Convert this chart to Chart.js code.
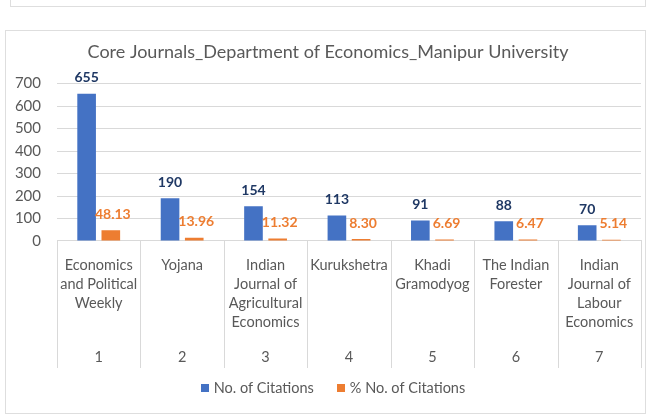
<!DOCTYPE html>
<html lang="en">
<head>
    <meta charset="UTF-8">
    <title>Core Journals</title>
    <script src="https://cdn.jsdelivr.net/npm/chart.js"></script>
    <style>
        body { margin: 0; background: #fff; font-family: Lato, sans-serif; }
        #wrap { position: relative; width: 652px; height: 418px; overflow: hidden; }
        .frame { position: absolute; border: 1px solid #dedede; }
        canvas { position: absolute; left: 0; top: 0; }
    </style>
</head>
<body>
<div id="wrap">
    <div class="frame" style="left:10px; top:-10px; width:634px; height:15px;"></div>
    <div class="frame" style="left:5px; top:30px; width:639px; height:382px;"></div>
    <canvas id="chart" width="652" height="418"></canvas>
</div>

<script>
    // data
    const journals = [
        ["Economics", "and Political", "Weekly"],
        ["Yojana"],
        ["Indian", "Journal of", "Agricultural", "Economics"],
        ["Kurukshetra"],
        ["Khadi", "Gramodyog"],
        ["The Indian", "Forester"],
        ["Indian", "Journal of", "Labour", "Economics"]
    ];
    const ranks = ["1", "2", "3", "4", "5", "6", "7"];
    const citations = [655, 190, 154, 113, 91, 88, 70];
    const pctCitations = [48.13, 13.96, 11.32, 8.30, 6.69, 6.47, 5.14];
    const yTicks = [0, 100, 200, 300, 400, 500, 600, 700];

    const grey = "#595959";

    // value labels above the bars
    const barLabels = {
        id: "barLabels",
        afterDatasetsDraw(chart) {
            const ctx = chart.ctx;
            ctx.save();
            ctx.font = "bold 14px Lato";
            ctx.textAlign = "center";
            ctx.textBaseline = "middle";
            chart.data.datasets.forEach((ds, i) => {
                const meta = chart.getDatasetMeta(i);
                meta.data.forEach((bar, j) => {
                    let txt = i === 0 ? String(ds.data[j]) : ds.data[j].toFixed(2);
                    ctx.fillStyle = i === 0 ? "#1f3864" : "#ed7d31";
                    ctx.fillText(txt, bar.x + (i === 0 ? 0 : 2), bar.y - 16);
                });
            });
            ctx.restore();
        }
    };

    // vertical dividers through both label rows
    const dividers = {
        id: "dividers",
        afterDraw(chart) {
            const x = chart.scales.x, x2 = chart.scales.x2;
            const ctx = chart.ctx;
            const step = (x.right - x.left) / ranks.length;
            ctx.save();
            ctx.strokeStyle = "#d9d9d9";
            ctx.lineWidth = 1;
            for (let i = 0; i <= ranks.length; i++) {
                const px = Math.round(x.left + i * step) + 0.5;
                ctx.beginPath();
                ctx.moveTo(px, chart.chartArea.bottom);
                ctx.lineTo(px, x2.bottom);
                ctx.stroke();
            }
            ctx.restore();
        }
    };

    // legend below the chart, spaced like the original
    const bottomLegend = {
        id: "bottomLegend",
        afterDraw(chart) {
            const ctx = chart.ctx;
            const y = 388, box = 8, gap = 5, spacing = 23, cx = 333;
            ctx.save();
            ctx.font = "14.5px Lato";
            ctx.textBaseline = "middle";
            const items = chart.data.datasets.map(ds => ({
                text: ds.label, color: ds.backgroundColor, w: ctx.measureText(ds.label).width
            }));
            let total = items.reduce((s, it) => s + box + gap + it.w, 0) + spacing * (items.length - 1);
            let x = cx - total / 2;
            items.forEach(it => {
                ctx.fillStyle = it.color;
                ctx.fillRect(Math.round(x), Math.round(y - box / 2), box, box);
                ctx.fillStyle = grey;
                ctx.fillText(it.text, x + box + gap, y);
                x += box + gap + it.w + spacing;
            });
            ctx.restore();
        }
    };

    new Chart(document.getElementById("chart"), {
        type: "bar",
        data: {
            labels: journals,
            datasets: [{
                label: "No. of Citations",
                data: citations,
                backgroundColor: "#4472c4",
                categoryPercentage: 0.58,
                barPercentage: 0.77
            }, {
                label: "% No. of Citations",
                data: pctCitations,
                backgroundColor: "#ed7d31",
                categoryPercentage: 0.58,
                barPercentage: 0.77
            }]
        },
        options: {
            responsive: false,
            animation: false,
            layout: { padding: { top: 41, right: 11, bottom: 50, left: 15 } },
            plugins: {
                title: {
                    display: true,
                    text: "Core Journals_Department of Economics_Manipur University",
                    color: grey,
                    font: { family: "Lato", size: 18, weight: "normal" },
                    padding: { top: 0, bottom: 21 }
                },
                legend: { display: false },
                tooltip: { enabled: false }
            },
            scales: {
                y: {
                    min: 0,
                    max: 700,
                    afterBuildTicks(scale) {
                        scale.ticks = yTicks.map(v => ({ value: v }));
                    },
                    afterFit(scale) { scale.width = 42; },
                    ticks: { color: grey, font: { family: "Lato", size: 15 }, padding: 16, autoSkip: false },
                    grid: { color: "#d9d9d9", drawTicks: false },
                    border: { display: false }
                },
                x: {
                    ticks: {
                        color: grey,
                        font: { family: "Lato", size: 14.5, lineHeight: 1.31 },
                        maxRotation: 0,
                        autoSkip: false,
                        padding: 14.5
                    },
                    grid: { display: false, drawTicks: false },
                    border: { color: "#d9d9d9" }
                },
                x2: {
                    type: "category",
                    position: "bottom",
                    labels: ranks,
                    ticks: { color: grey, font: { family: "Lato", size: 14.5, lineHeight: 1.52 }, padding: 0 },
                    grid: { display: false, drawTicks: false },
                    border: { display: false }
                }
            }
        },
        plugins: [barLabels, dividers, bottomLegend]
    });
</script>
</body>
</html>
